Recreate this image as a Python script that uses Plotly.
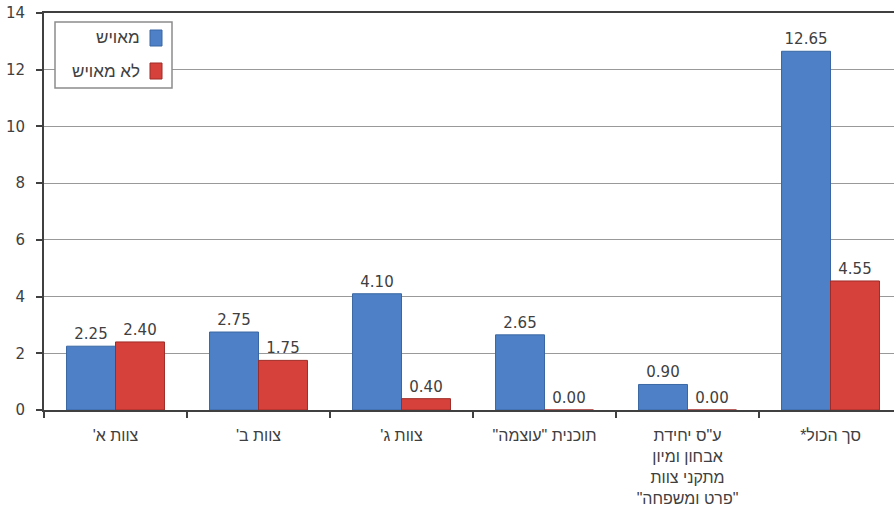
import plotly.graph_objects as go

RLM = "\u200f"

categories = [
    "צוות א'",
    "צוות ב'",
    "צוות ג'",
    'תוכנית "עוצמה"',
    'ע"ס יחידת<br>אבחון ומיון<br>מתקני צוות<br>"פרט ומשפחה"',
    "סך הכול*",
]
staffed = [2.25, 2.75, 4.10, 2.65, 0.90, 12.65]
unstaffed = [2.40, 1.75, 0.40, 0.00, 0.00, 4.55]
series_names = ["מאויש", "לא מאויש"]
y_ticks = [0, 2, 4, 6, 8, 10, 12, 14]


def rtl(label):
    return "<br>".join(RLM + part + RLM for part in label.split("<br>"))


cat_labels = [rtl(c) for c in categories]

BLUE = "#4d80c6"
BLUE_LINE = "#3a67a3"
RED = "#d6423b"
RED_LINE = "#9e2b27"

num_font = dict(family="DejaVu Sans, Verdana, sans-serif", size=15, color="#404040")
heb_font = dict(family="Arial, Liberation Sans, sans-serif", size=16, color="#404040")

fig = go.Figure()
fig.add_trace(go.Bar(
    x=cat_labels, y=staffed, name=series_names[0],
    marker=dict(color=BLUE, line=dict(color=BLUE_LINE, width=1)),
    text=[f"{v:.2f}" for v in staffed], textposition="outside",
    textfont=num_font, cliponaxis=False,
))
fig.add_trace(go.Bar(
    x=cat_labels, y=unstaffed, name=series_names[1],
    marker=dict(color=RED, line=dict(color=RED_LINE, width=1)),
    text=[f"{v:.2f}" for v in unstaffed], textposition="outside",
    textfont=num_font, cliponaxis=False,
))

W, H = 894, 511
PLOT_LEFT, PLOT_TOP, PLOT_BOTTOM = 44, 13, 410
L = PLOT_LEFT
T = PLOT_TOP
B = H - PLOT_BOTTOM
plot_w = W - L
plot_h = H - T - B


def px_x(px):
    return (px - PLOT_LEFT) / plot_w


def px_y(py):
    return (PLOT_BOTTOM - py) / plot_h


shapes = []
annotations = []
# manual RTL legend (swatch on the right of the text)
shapes.append(dict(type="rect", xref="paper", yref="paper",
                   x0=px_x(55), x1=px_x(172), y0=px_y(88), y1=px_y(22),
                   line=dict(color="#8c8c8c", width=1.5), fillcolor="white"))
legend_rows = [(series_names[0], BLUE, BLUE_LINE, 38), (series_names[1], RED, RED_LINE, 71)]
for name, col, lcol, cy in legend_rows:
    shapes.append(dict(type="rect", xref="paper", yref="paper",
                       x0=px_x(150), x1=px_x(162), y0=px_y(cy + 8), y1=px_y(cy - 8),
                       line=dict(color=lcol, width=1), fillcolor=col))
    annotations.append(dict(xref="paper", yref="paper", x=px_x(142), y=px_y(cy),
                            xanchor="right", yanchor="middle", showarrow=False,
                            text=RLM + name + RLM,
                            font=dict(family="Arial, Liberation Sans, sans-serif", size=17, color="#404040")))

fig.update_layout(
    width=W, height=H,
    margin=dict(l=L, r=0, t=T, b=B, pad=0),
    paper_bgcolor="white", plot_bgcolor="white",
    barmode="group", bargap=0.315, bargroupgap=0,
    showlegend=False,
    shapes=shapes, annotations=annotations,
    xaxis=dict(
        range=[-0.5, -0.5 + plot_w / 143.0],
        tickfont=heb_font, tickson="boundaries", ticks="outside", ticklen=6,
        tickcolor="#404040", tickwidth=1.5,
        showline=True, linecolor="#404040", linewidth=2, mirror=True,
        showgrid=False, fixedrange=True, automargin=False,
        ticklabelstandoff=10,
    ),
    yaxis=dict(
        range=[0, 14], tickvals=y_ticks, tickfont=num_font,
        ticks="outside", ticklen=6, tickcolor="#404040", tickwidth=1.5,
        showline=True, linecolor="#404040", linewidth=2,
        showgrid=True, gridcolor="#999999", gridwidth=1,
        zeroline=False, ticklabelstandoff=8, automargin=False,
        ticklabeloverflow="allow",
    ),
)

fig.write_html(
    "out.html",
    config={"displayModeBar": False},
    post_script="document.body.style.margin='0';document.body.style.overflow='hidden';",
)
